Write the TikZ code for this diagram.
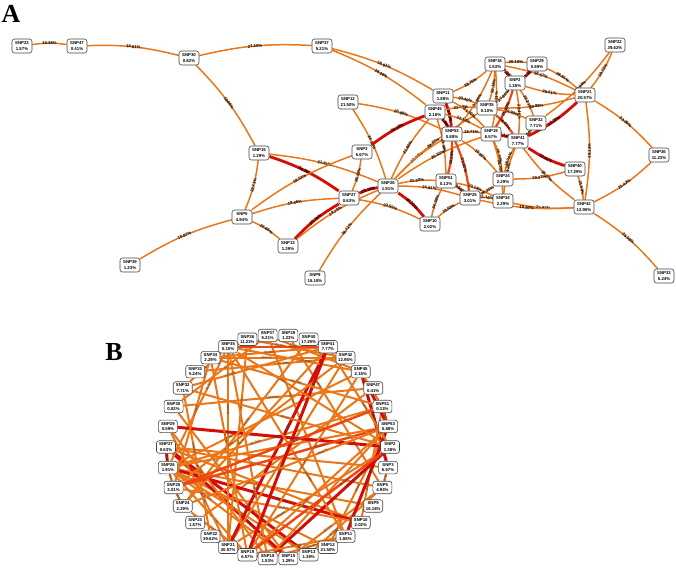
\documentclass[tikz,border=0pt]{standalone}
\usepackage{fontspec}
\setmainfont{Liberation Serif}
\setsansfont{Liberation Sans}
\definecolor{eor}{RGB}{234,118,24}
\definecolor{ere}{RGB}{212,14,6}
\definecolor{emi}{RGB}{238,72,18}
\definecolor{nbd}{RGB}{70,70,70}
\pgfdeclarelayer{bg}
\pgfsetlayers{bg,main}
\begin{document}
\def\elist{23/47/24.36/ko, 47/30/18.61/ko, 30/37/21.10/ko, 30/15/18.86/ko, 37/11/18.91/ko, 37/45/18.16/ko,
12/53/20.88/ko, 12/26/24.12/ko, 15/26/21.81/ko, 15/27/30.30/kr, 15/5/22.71/ko, 5/3/19.53/ko, 5/27/19.36/ko,
5/13/22.60/ko, 39/5/18.87/ko, 13/27/30.76/kr, 13/26/19.76/ko, 9/26/18.71/ko, 27/26/29.11/kr, 27/10/23.55/ko,
3/27/25.32/ko, 3/45/26.78/kr, 26/10/30.13/kr, 26/53/20.76/ko, 26/45/21.86/ko, 26/51/21.30/ko, 26/25/24.81/ko,
26/19/26.83/ko, 26/35/22.57/ko, 10/51/24.39/ko, 10/25/19.82/ko, 22/21/19.73/ko, 22/32/29.04/ko, 21/36/23.26/ko,
36/42/21.42/ko, 42/33/25.58/ko, 21/42/18.12/ko, 21/41/32.27/kr, 21/35/19.88/ko, 21/2/29.61/ko, 18/21/18.57/ko,
29/2/31.25/kr, 29/21/28.81/ko, 18/29/20.10/ko, 40/41/33.81/kr, 40/42/21.39/ko, 40/24/19.37/ko, 42/34/23.97/ko,
42/25/18.97/ko, 42/41/18.17/ko, 24/41/18.74/ko, 34/41/19.12/ko, 18/11/28.76/ko, 18/2/34.20/kr, 18/35/22.15/ko,
18/53/24.60/ko, 18/19/21.33/ko, 11/53/33.40/kr, 45/53/31.98/kr, 11/35/20.40/ko, 45/35/21.60/ko, 45/19/23.14/ko,
53/19/22.71/ko, 53/51/24.36/km, 53/25/25.02/km, 19/41/32.10/kr, 19/24/28.23/ko, 19/34/24.71/ko, 2/35/27.80/ko,
2/19/25.10/km, 2/41/23.48/ko, 2/32/22.21/ko, 35/32/19.98/ko, 35/41/28.40/km, 32/41/24.60/ko, 51/25/29.50/km,
51/34/20.14/ko, 25/34/21.16/ko, 24/25/20.31/ko, 53/24/19.62/ko, 45/51/23.40/ko, 11/19/21.70/ko}
\begin{tikzpicture}[x=1bp,y=-1bp,
  snp/.style={draw=nbd, line width=0.6bp, fill=white, rounded corners=2.5bp, inner sep=0.8bp,
    minimum width=20bp, minimum height=14bp, align=center,
    font=\sffamily\bfseries\fontsize{4.3bp}{5.2bp}\selectfont},
  snpb/.style={snp, minimum height=12.5bp, minimum width=19bp},
  ko/.style={draw=eor, line width=1.5bp},
  kr/.style={draw=ere, line width=2.8bp},
  km/.style={draw=emi, line width=2.2bp},
  alab/.style={sloped, midway, font=\sffamily\bfseries\fontsize{4.2bp}{4.6bp}\selectfont, inner sep=0pt, text=black},
  blab/.style={sloped, font=\sffamily\fontsize{3.2bp}{3.6bp}\selectfont, inner sep=0pt, text=black!80},
  panel/.style={font=\bfseries\fontsize{26bp}{26bp}\selectfont, inner sep=0pt}]
\useasboundingbox (0,0) rectangle (676,570);
\node[panel] (labA) at (11,14) {A};
\node[panel] (labB) at (114,352) {B};
% Panel A nodes
\foreach \n/\x/\y/\p in {23/22/46/1.57, 47/77/46/0.41, 30/189/58/0.82, 37/322/46/5.21, 22/615/45/39.62,
  18/495/64/1.53, 29/537/64/0.59, 2/515/83/1.38, 21/585/95/20.57, 11/443/96/1.88, 12/348/102/21.50,
  45/435/112/2.18, 35/487/108/0.10, 32/536/123/7.71, 53/452/134/0.88, 19/491/134/6.57, 41/518/141/7.77,
  3/362/152/6.67, 15/259/153/1.29, 36/659/155/11.23, 40/575/169/17.29, 26/388/186/1.91, 51/446/181/0.13,
  24/503/179/2.29, 27/349/198/0.63, 5/242/217/4.94, 25/470/198/3.01, 34/503/201/2.29, 42/584/207/12.96,
  10/430/224/2.02, 13/288/246/1.39, 39/130/265/1.23, 9/315/278/16.18, 33/664/276/5.24}
  {\node[snp] (a\n) at (\x,\y) {SNP\n\\\p\%};}
% Panel B nodes
\foreach \n/\p [count=\i from 0] in {2/1.38, 3/6.67, 5/4.94, 9/16.18, 10/2.02, 11/1.88, 12/21.50, 13/1.39,
  15/1.29, 18/1.53, 19/6.57, 21/20.57, 22/39.62, 23/1.57, 24/2.29, 25/3.01, 26/1.91, 27/0.63, 29/0.59,
  30/0.82, 32/7.71, 33/5.24, 34/2.29, 35/0.10, 36/11.23, 37/5.21, 39/1.23, 40/17.29, 41/7.77, 42/12.96,
  45/2.18, 47/0.41, 51/0.13, 53/0.88}
  {\node[snpb] (b\n) at ({278+112*cos(\i*360/34)},{447+112*sin(\i*360/34)}) {SNP\n\\\p\%};}
\begin{pgfonlayer}{bg}
\foreach \a/\b/\v/\c in \elist
  {\draw[\c] (a\a) to[bend left=8] node[alab] {\v\%} (a\b);}
\begin{scope}[ko/.style={draw=eor, line width=2bp}, kr/.style={draw=ere, line width=3bp},
  km/.style={draw=emi, line width=2.5bp}]
\foreach \a/\b/\v/\c [count=\k] in \elist
  {\pgfmathsetmacro\pp{0.3+0.1*mod(\k,5)}
   \draw[\c] (b\a) -- node[blab, pos=\pp] {\v\%} (b\b);}
\end{scope}
\end{pgfonlayer}
\end{tikzpicture}
\end{document}
